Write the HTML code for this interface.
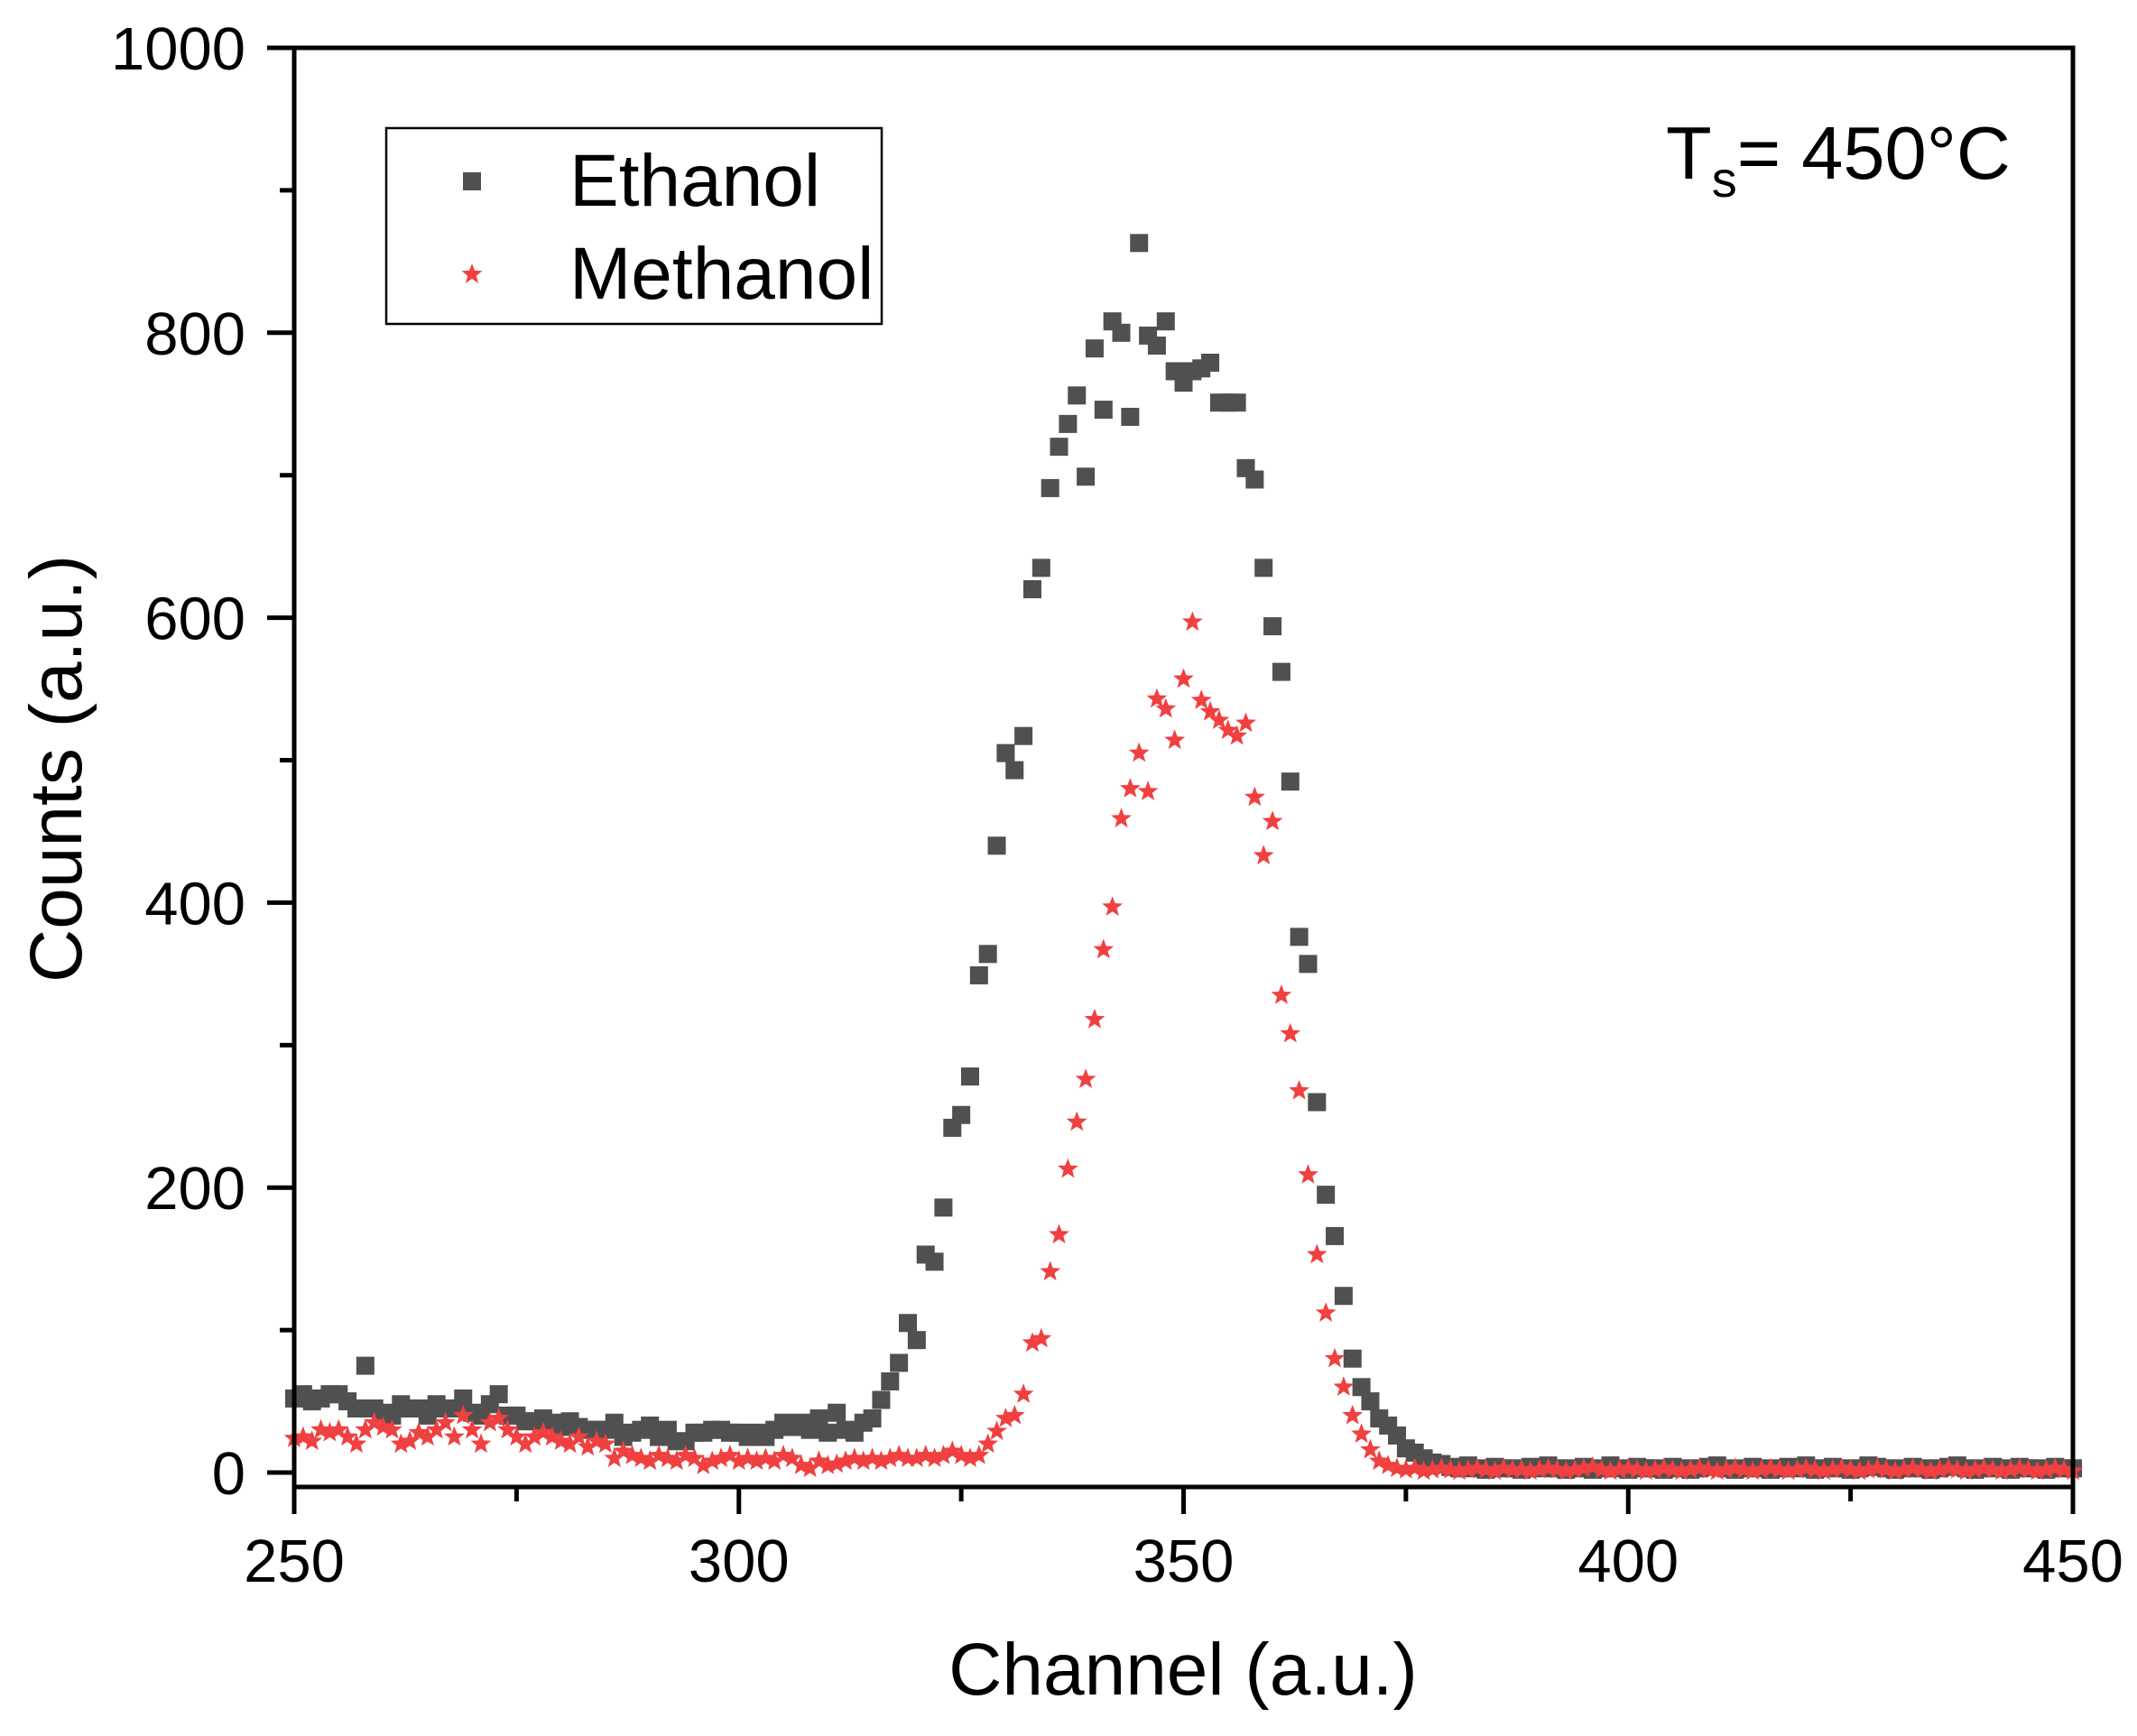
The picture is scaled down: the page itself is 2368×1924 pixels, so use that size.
<!DOCTYPE html>
<html><head><meta charset="utf-8"><style>
html,body{margin:0;padding:0;background:#fff;}
svg{display:block;font-family:"Liberation Sans",Arial,sans-serif;}
</style></head><body>
<svg id="chart" width="2368" height="1924" viewBox="0 0 2368 1924" xmlns="http://www.w3.org/2000/svg">
<rect x="0" y="0" width="2368" height="1924" fill="#fff"/>
<g id="marks"></g>
<g id="axes"></g>
<g>
  <rect x="428" y="142" width="549" height="217" fill="#fff" stroke="#000" stroke-width="2.5"/>
  <rect x="513" y="191" width="20" height="20" fill="#505050"/>
  <text x="631" y="228" font-size="82">Ethanol</text>
  <polygon id="legstar" fill="#f04040"/>
  <text x="631" y="331" font-size="82">Methanol</text>
</g>
<text x="1846" y="198" font-size="83">T<tspan font-size="56" dy="20">s</tspan><tspan dy="-20">= 450°C</tspan></text>
<text x="1311" y="1878" font-size="82" text-anchor="middle">Channel (a.u.)</text>
<text x="0" y="0" font-size="82" text-anchor="middle" transform="translate(90,852) rotate(-90)">Counts (a.u.)</text>
</svg>
<script>
const xStart = 250;
const ethanol = [52,55,50,52,55,55,50,45,75,45,42, 40,48,45,45,40,48,45,45,52,42, 40,48,55,40,40,36,36,38,35,32, 36,32,30,30,30,35,25,28,30,33, 25,30,22,22,28,28,30,30,28,28, 25,28,25,30,35,32,35,30,38,28, 42,30,28,35,38,
51,64,77,105,93,153,148,186,242,251,278,349,364,440,505,493,517,620,635,691,720,736,756,699,789,746,808,800,741,863,798,791,808,773,765,773,775,779,751,751,751,705,697,635,594,562,485,376,357,260,195,166,124,80,60,50,38,33,26,17,14,10,7,6,
4,3,5,3,2,4,3,3,2,4,
3,5,3,2,3,4,2,3,5,3,
2,4,3,3,2,4,3,2,3,4,
5,3,2,3,4,3,2,3,4,3,
5,2,3,4,3,2,3,5,4,3,
2,3,4,3,2,3,4,5,3,2,
3,4,3,2,4,3,3,2,4,3,
3];
const methanol = [24,25,22,30,28,30,25,20,30,35,32, 30,20,22,28,25,30,35,25,40,30, 20,35,38,30,25,20,25,28,25,22, 20,25,18,22,20,10,15,12,10,8, 12,10,8,12,10,5,8,10,12,8, 10,8,10,8,12,10,5,3,8,5, 6,8,10,8,10,8,10,12,10,10, 12,10,12,15,12,10,12,20,
29,38,40,55,91,94,141,167,213,246,276,318,367,397,459,480,505,478,543,536,514,557,597,542,534,528,521,517,526,474,433,457,335,308,268,209,153,112,80,60,40,27,16,8,5,
3,2,3,1,2,3,2,1,2,3,
2,1,3,2,2,1,2,3,2,1,
2,3,4,2,1,2,3,2,1,2,
3,2,1,2,3,2,1,2,3,2,
1,2,3,2,1,2,3,2,1,2,
3,2,1,2,3,2,1,2,3,2,
1,2,3,2,1,2,3,2,1,2,
3,2,1,2,3,2,1];
const xTicks = [250,300,350,400,450];
const xMinor = [275,325,375,425];
const yTicks = [0,200,400,600,800,1000];
const yMinor = [100,300,500,700,900];

const L=326,R=2297,T=53,B=1648;
const X0=250,X1=450,Y0=-10.1,Y1=1000;
const sx=v=>L+(v-X0)/(X1-X0)*(R-L);
const sy=v=>B-(v-Y0)/(Y1-Y0)*(B-T);
const NS="http://www.w3.org/2000/svg";
function mk(tag,attrs,parent){const e=document.createElementNS(NS,tag);for(const k in attrs)e.setAttribute(k,attrs[k]);parent.appendChild(e);return e;}
function starPts(cx,cy,r){let p=[];for(let i=0;i<10;i++){const rr=i%2?r*0.42:r;const a=-Math.PI/2+i*Math.PI/5;p.push((cx+rr*Math.cos(a)).toFixed(1)+","+(cy+rr*Math.sin(a)).toFixed(1));}return p.join(" ");}
document.getElementById('legstar').setAttribute('points',starPts(523,304,12));
const marks=document.getElementById('marks');
const ge=mk('g',{},marks);


ethanol.forEach((v,i)=>{const x=sx(xStart+i),y=sy(v);
 const r=mk('rect',{x:x-10,y:y-10,width:20,height:20,fill:'#505050'},ge);
 
 });
const gm=mk('g',{},marks);


methanol.forEach((v,i)=>{const x=sx(xStart+i),y=sy(v);
 const s=mk('polygon',{points:starPts(x,y,12),fill:'#f04040'},gm);
 
 });
const ax=document.getElementById('axes');
const frame=mk('rect',{x:L,y:T,width:R-L,height:B-T,fill:'none',stroke:'#000','stroke-width':5},ax);


xTicks.forEach(v=>{const x=sx(v);
 const t=mk('line',{x1:x,x2:x,y1:B,y2:B+30,stroke:'#000','stroke-width':5},ax);
 
 
 const tx=mk('text',{x:x,y:1753,'font-size':67,'text-anchor':'middle'},ax);tx.textContent=v;
 
 });
xMinor.forEach(v=>{const x=sx(v);
 const t=mk('line',{x1:x,x2:x,y1:B,y2:B+16,stroke:'#000','stroke-width':5},ax);
 
 });
yTicks.forEach(v=>{const y=sy(v);
 const t=mk('line',{x1:L,x2:L-30,y1:y,y2:y,stroke:'#000','stroke-width':5},ax);
 
 
 const tx=mk('text',{x:272,y:y+24,'font-size':67,'text-anchor':'end'},ax);tx.textContent=v;
 
 });
yMinor.forEach(v=>{const y=sy(v);
 const t=mk('line',{x1:L,x2:L-16,y1:y,y2:y,stroke:'#000','stroke-width':5},ax);
 
 });
</script>
</body></html>
